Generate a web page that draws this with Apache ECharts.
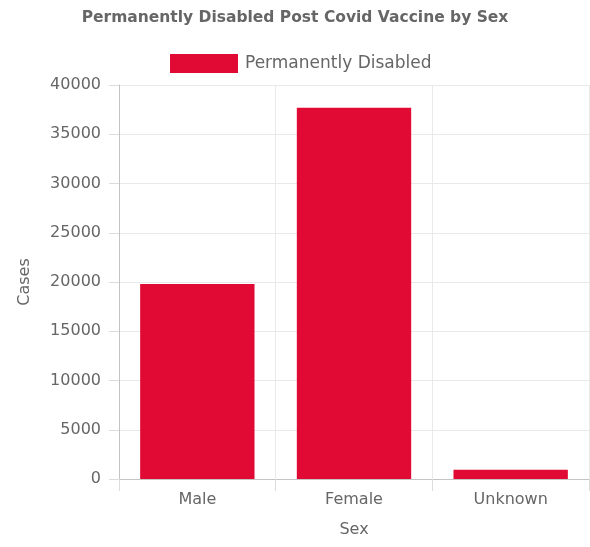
<!DOCTYPE html>
<html>
<head>
<meta charset="utf-8">
<script src="https://cdn.jsdelivr.net/npm/echarts@6/dist/echarts.min.js"></script>
<style>
  html, body { margin: 0; padding: 0; background: #fff; }
  #chart { width: 590px; height: 547px; }
</style>
</head>
<body>
<div id="chart"></div>
<script>
// Reported permanent disability cases by sex
const categories = ['Male', 'Female', 'Unknown'];
const disabledCases = [19800, 37700, 950];
const seriesName = 'Permanently Disabled';

const FONT = 'DejaVu Sans';
const TEXT = '#666666';
const GRID_LINE = '#e9e9e9';
const AXIS_LINE = '#c4c4c4';
const BAR_RED = '#e10a35';

const chart = echarts.init(document.getElementById('chart'), null, { renderer: 'canvas' });

chart.setOption({
  animation: false,
  backgroundColor: '#ffffff',
  textStyle: { fontFamily: FONT },
  title: {
    text: 'Permanently Disabled Post Covid Vaccine by Sex',
    left: 'center',
    top: 10,
    padding: 0,
    textStyle: { fontFamily: FONT, fontSize: 15.5, fontWeight: 'bold', color: TEXT }
  },
  legend: {
    left: 170,
    top: 54,
    padding: 0,
    itemWidth: 68,
    itemHeight: 19,
    itemGap: 10,
    icon: 'rect',
    textStyle: { fontFamily: FONT, fontSize: 17, color: TEXT, padding: [0, 0, 0, 2] },
    data: [seriesName]
  },
  grid: { left: 119, right: 1, top: 85, bottom: 68, containLabel: false },
  xAxis: {
    type: 'category',
    data: categories,
    boundaryGap: true,
    name: 'Sex',
    nameLocation: 'middle',
    nameGap: 43,
    nameMoveOverlap: false,
    nameTextStyle: { fontFamily: FONT, fontSize: 16, color: TEXT },
    axisLine: { show: true, lineStyle: { color: AXIS_LINE, width: 1 } },
    axisTick: { show: true, length: 12, lineStyle: { color: '#dcdcdc' } },
    axisLabel: { fontFamily: FONT, fontSize: 16, color: TEXT, margin: 13 },
    splitLine: { show: true, lineStyle: { color: GRID_LINE, width: 1 } }
  },
  yAxis: {
    type: 'value',
    min: 0,
    max: 40000,
    interval: 5000,
    name: 'Cases',
    nameLocation: 'middle',
    nameGap: 86,
    nameRotate: 90,
    nameMoveOverlap: false,
    nameTextStyle: { fontFamily: FONT, fontSize: 16, color: TEXT },
    axisLine: { show: true, lineStyle: { color: AXIS_LINE, width: 1 } },
    axisTick: { show: true, length: 10, lineStyle: { color: '#dcdcdc' } },
    axisLabel: { fontFamily: FONT, fontSize: 16, color: TEXT, margin: 18, formatter: v => String(v) },
    splitLine: { show: true, lineStyle: { color: GRID_LINE, width: 1 } }
  },
  series: [{
    name: seriesName,
    type: 'bar',
    data: disabledCases,
    barWidth: '73%',
    itemStyle: { color: BAR_RED }
  }]
});
</script>
</body>
</html>
